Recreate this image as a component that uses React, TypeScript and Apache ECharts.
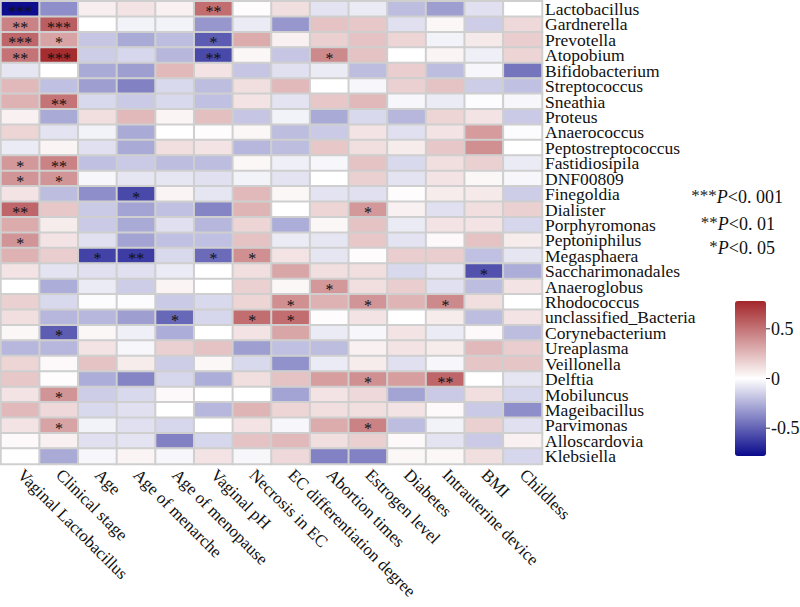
import React, { useEffect, useRef } from "react";
import * as echarts from "echarts";

const rowNames = [
  "Lactobacillus", "Gardnerella", "Prevotella", "Atopobium", "Bifidobacterium",
  "Streptococcus", "Sneathia", "Proteus", "Anaerococcus", "Peptostreptococcus",
  "Fastidiosipila", "DNF00809", "Finegoldia", "Dialister", "Porphyromonas",
  "Peptoniphilus", "Megasphaera", "Saccharimonadales", "Anaeroglobus", "Rhodococcus",
  "unclassified_Bacteria", "Corynebacterium", "Ureaplasma", "Veillonella", "Delftia",
  "Mobiluncus", "Mageibacillus", "Parvimonas", "Alloscardovia", "Klebsiella",
];

const colNames = [
  "Vaginal Lactobacillus", "Clinical stage", "Age", "Age of menarche", "Age of menopause",
  "Vaginal pH", "Necrosis in EC", "EC differentiation degree", "Abortion times", "Estrogen level",
  "Diabetes", "Intrauterine device", "BMI", "Childless",
];

// correlation coefficients, one row per genus, one entry per clinical variable
const correlations: number[][] = [
  [-0.77, -0.36, 0.06, 0.1, 0.05, 0.52, 0.01, 0.12, -0.09, -0.065, -0.21, -0.31, -0.1, 0.0],
  [0.45, 0.58, 0.0, -0.04, -0.04, -0.33, -0.065, -0.33, 0.22, 0.2, -0.1, 0.03, -0.16, 0.14],
  [0.55, 0.33, -0.18, -0.27, -0.21, -0.52, 0.3, 0.05, 0.17, 0.22, 0.15, -0.04, 0.08, 0.18],
  [0.5, 0.76, -0.16, -0.13, -0.23, -0.58, 0.03, -0.18, 0.42, 0.22, 0.0, 0.04, -0.05, 0.15],
  [-0.08, 0.0, -0.27, -0.31, 0.25, 0.1, -0.18, -0.1, -0.065, -0.21, 0.18, -0.21, -0.03, -0.44],
  [0.25, -0.2, -0.31, -0.4, -0.12, -0.21, 0.12, 0.25, 0.0, -0.03, 0.17, 0.22, -0.16, -0.2],
  [0.28, 0.5, -0.12, -0.17, -0.12, -0.2, 0.1, -0.09, 0.2, 0.25, -0.03, -0.065, -0.01, -0.03],
  [0.05, -0.27, 0.12, 0.25, 0.04, 0.23, -0.18, -0.04, -0.27, -0.12, -0.23, 0.15, 0.1, -0.17],
  [0.15, -0.09, -0.04, -0.27, 0.0, 0.01, 0.03, -0.21, -0.17, 0.1, -0.1, 0.1, 0.36, -0.01],
  [-0.065, 0.04, -0.1, -0.27, 0.12, 0.1, -0.23, -0.21, 0.2, 0.12, 0.07, 0.2, 0.4, 0.0],
  [0.37, 0.45, -0.2, -0.17, -0.21, -0.21, 0.03, -0.05, -0.03, 0.22, -0.12, 0.12, 0.17, -0.065],
  [0.38, 0.38, -0.03, -0.08, -0.08, -0.1, -0.04, -0.09, 0.0, 0.17, -0.09, 0.1, 0.03, -0.03],
  [0.1, -0.21, -0.36, -0.58, 0.04, -0.08, 0.25, 0.03, -0.09, -0.1, 0.01, 0.07, 0.08, -0.16],
  [0.55, 0.2, -0.17, -0.29, -0.2, -0.39, 0.27, 0.0, 0.15, 0.37, 0.05, -0.1, 0.12, 0.17],
  [0.3, 0.07, -0.17, -0.27, -0.1, -0.23, 0.15, -0.26, 0.03, 0.22, -0.065, 0.1, 0.1, -0.13],
  [0.38, 0.1, -0.1, -0.29, -0.2, -0.2, 0.22, -0.065, -0.08, 0.2, -0.09, 0.02, 0.22, 0.07],
  [0.28, 0.18, -0.6, -0.62, -0.12, -0.47, 0.4, 0.1, -0.08, 0.01, 0.18, 0.18, -0.2, -0.08],
  [0.1, -0.09, -0.1, -0.1, -0.065, 0.0, 0.12, 0.32, 0.12, 0.12, -0.12, -0.08, -0.55, -0.26],
  [0.0, -0.26, -0.065, -0.16, 0.04, 0.0, 0.17, 0.03, 0.37, 0.12, 0.18, -0.1, -0.21, 0.1],
  [0.17, -0.12, -0.01, -0.01, -0.17, -0.12, 0.15, 0.4, 0.28, 0.38, 0.27, 0.42, 0.12, 0.0],
  [0.12, -0.23, -0.23, -0.31, -0.48, -0.13, 0.52, 0.52, 0.01, 0.1, 0.0, 0.07, -0.21, 0.1],
  [0.03, -0.52, 0.03, -0.05, -0.26, 0.0, 0.1, 0.32, -0.065, -0.03, 0.1, -0.065, 0.02, -0.21],
  [-0.23, -0.23, 0.1, -0.03, 0.17, 0.22, -0.31, -0.2, -0.21, 0.05, 0.1, 0.07, 0.25, 0.18],
  [0.15, 0.02, 0.22, 0.07, -0.16, 0.03, -0.12, -0.35, -0.065, 0.07, -0.1, -0.03, 0.21, 0.21],
  [0.2, 0.01, -0.26, -0.39, -0.13, -0.26, 0.12, 0.22, 0.35, 0.4, 0.35, 0.55, 0.0, -0.08],
  [0.1, 0.38, -0.16, -0.12, 0.02, 0.0, 0.0, -0.29, 0.1, 0.14, -0.29, -0.17, 0.12, -0.13],
  [0.25, 0.14, -0.12, -0.1, 0.0, -0.23, 0.27, 0.15, 0.12, 0.12, 0.1, 0.02, -0.17, -0.36],
  [0.1, 0.33, -0.04, -0.1, -0.13, 0.0, 0.1, -0.03, 0.3, 0.45, -0.21, -0.04, 0.17, -0.1],
  [0.02, 0.05, -0.1, -0.09, -0.4, -0.13, 0.22, 0.25, 0.12, 0.17, 0.02, -0.09, -0.17, 0.05],
  [0.0, -0.27, -0.03, 0.04, -0.03, 0.1, -0.03, 0.14, -0.4, -0.4, 0.03, 0.03, 0.12, -0.13],
];

// [rowIndex, colIndex, stars]
const sigMarks: [number, number, string][] = [
  [0, 0, "***"], [0, 5, "**"],
  [1, 0, "**"], [1, 1, "***"],
  [2, 0, "***"], [2, 1, "*"], [2, 5, "*"],
  [3, 0, "**"], [3, 1, "***"], [3, 5, "**"], [3, 8, "*"],
  [6, 1, "**"],
  [10, 0, "*"], [10, 1, "**"],
  [11, 0, "*"], [11, 1, "*"],
  [12, 3, "*"],
  [13, 0, "**"], [13, 9, "*"],
  [15, 0, "*"],
  [16, 2, "*"], [16, 3, "**"], [16, 5, "*"], [16, 6, "*"],
  [17, 12, "*"],
  [18, 8, "*"],
  [19, 7, "*"], [19, 9, "*"], [19, 11, "*"],
  [20, 4, "*"], [20, 6, "*"], [20, 7, "*"],
  [21, 1, "*"],
  [24, 9, "*"], [24, 11, "**"],
  [25, 1, "*"],
  [27, 1, "*"], [27, 9, "*"],
];

const colorMin = -0.78;
const colorMax = 0.78;
const colorbarTicks = [0.5, 0, -0.5];
const pStars = ["***", "**", "*"];
const pThresholds = ["0. 001", "0. 01", "0. 05"];

const FONT = "'Liberation Serif', 'Times New Roman', serif";

export default function App() {
  const ref = useRef<HTMLDivElement>(null);

  useEffect(() => {
    document.body.style.margin = "0";
    if (!ref.current) return;
    const chart = echarts.init(ref.current, undefined, { renderer: "svg" });

    const sigMap: Record<string, string> = {};
    sigMarks.forEach(([r, c, s]) => {
      sigMap[`${c},${r}`] = s;
    });

    const data: [number, number, number][] = [];
    correlations.forEach((row, r) => {
      row.forEach((v, c) => data.push([c, r, v]));
    });

    // colour bar geometry
    const cbLeft = 735;
    const cbTop = 301;
    const cbW = 31;
    const cbH = 155;
    const yOf = (v: number) => cbTop + ((colorMax - v) / (colorMax - colorMin)) * cbH;

    const graphics: any[] = [];
    colorbarTicks.forEach((t) => {
      const y = yOf(t);
      graphics.push({
        type: "line",
        shape: { x1: cbLeft + cbW, y1: y, x2: cbLeft + cbW + 4, y2: y },
        style: { stroke: "#333", lineWidth: 1 },
      });
      graphics.push({
        type: "text",
        x: cbLeft + cbW + 5,
        y,
        style: {
          text: String(t),
          font: `18px ${FONT}`,
          fill: "#111",
          verticalAlign: "middle",
          align: "left",
        },
      });
    });

    const legendPos = [
      [783, 197],
      [775, 224],
      [775, 248],
    ];
    pStars.forEach((s, i) => {
      graphics.push({
        type: "text",
        x: legendPos[i][0],
        y: legendPos[i][1],
        style: {
          text: `{s|${s}}{p|P}{t|<${pThresholds[i]}}`,
          align: "right",
          verticalAlign: "middle",
          rich: {
            s: { fontFamily: FONT, fontSize: 17, fill: "#222", padding: [0, 0, 4, 0] },
            p: { fontFamily: FONT, fontSize: 18, fontStyle: "italic", fill: "#111" },
            t: { fontFamily: FONT, fontSize: 18, fill: "#111" },
          },
        },
      });
    });

    chart.setOption({
      animation: false,
      textStyle: { fontFamily: FONT },
      grid: { left: 1, top: 1, width: 541, height: 463, containLabel: false },
      xAxis: {
        type: "category",
        data: colNames,
        position: "bottom",
        axisLine: { show: false },
        axisTick: { show: false },
        splitLine: { show: false },
        axisLabel: {
          interval: 0,
          rotate: -45,
          margin: 8,
          fontSize: 17,
          lineHeight: 14,
          fontFamily: FONT,
          color: "#111",
        },
      },
      yAxis: {
        type: "category",
        data: rowNames,
        inverse: true,
        position: "right",
        axisLine: { show: false },
        axisTick: { show: false },
        splitLine: { show: false },
        axisLabel: {
          interval: 0,
          margin: 3,
          fontSize: 17.5,
          lineHeight: 14,
          fontFamily: FONT,
          color: "#111",
        },
      },
      visualMap: {
        type: "continuous",
        min: colorMin,
        max: colorMax,
        calculable: false,
        hoverLink: false,
        left: cbLeft,
        top: cbTop,
        itemWidth: cbW,
        itemHeight: cbH,
        padding: 0,
        inRange: { color: ["#0a0a8c", "#ffffff", "#a3262a"] },
      },
      series: [
        {
          type: "heatmap",
          data,
          itemStyle: { borderColor: "#cfcfcf", borderWidth: 2 },
          emphasis: { disabled: true },
          label: {
            show: true,
            formatter: (p: any) => sigMap[`${p.value[0]},${p.value[1]}`] || "",
            fontFamily: FONT,
            fontSize: 16,
            lineHeight: 12,
            color: "#111",
            offset: [0, 3],
          },
        },
      ],
      graphic: graphics,
    });

    return () => chart.dispose();
  }, []);

  return (
    <div
      ref={ref}
      style={{ position: "absolute", left: 0, top: 0, width: 800, height: 607 }}
    />
  );
}
